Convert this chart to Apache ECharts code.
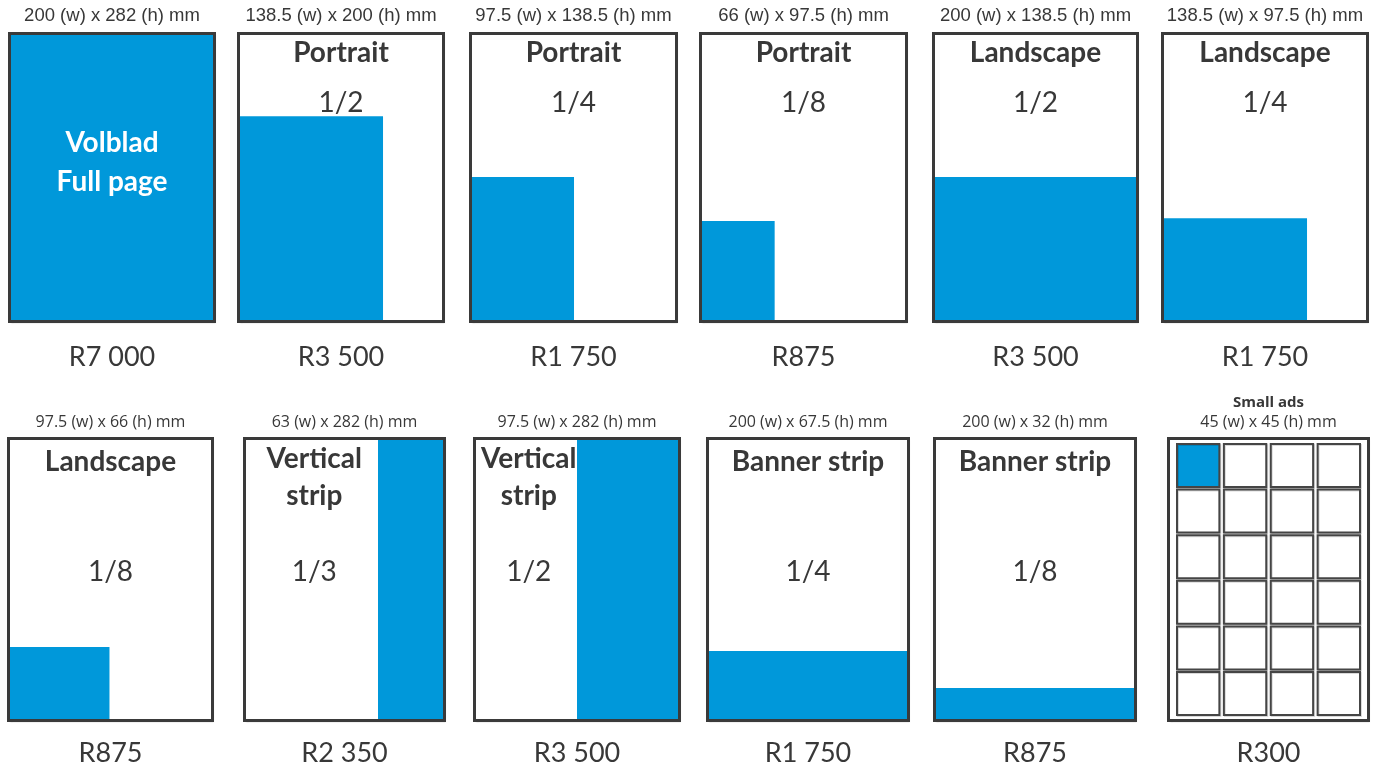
<!DOCTYPE html>
<html><head><meta charset="utf-8">
<script src="https://cdn.jsdelivr.net/npm/echarts@6/dist/echarts.min.js"></script>
<style>html,body{margin:0;padding:0;background:#fff}#c{width:1377px;height:769px}</style>
</head><body><div id="c"></div>
<script>
// ---------------- data ----------------
const pageWidthMm = 200;
const pageHeightMm = 282;
const sizeLabels = ['200 (w) x 282 (h) mm', '138.5 (w) x 200 (h) mm', '97.5 (w) x 138.5 (h) mm', '66 (w) x 97.5 (h) mm', '200 (w) x 138.5 (h) mm', '138.5 (w) x 97.5 (h) mm',
                    '97.5 (w) x 66 (h) mm', '63 (w) x 282 (h) mm', '97.5 (w) x 282 (h) mm', '200 (w) x 67.5 (h) mm', '200 (w) x 32 (h) mm', '45 (w) x 45 (h) mm'];
const formatNames = ['Volblad\nFull page', 'Portrait', 'Portrait', 'Portrait', 'Landscape', 'Landscape',
                     'Landscape', 'Vertical\nstrip', 'Vertical\nstrip', 'Banner strip', 'Banner strip', 'Small ads'];
const fractions = ['', '1/2', '1/4', '1/8', '1/2', '1/4', '1/8', '1/3', '1/2', '1/4', '1/8', ''];
const prices = ['R7 000', 'R3 500', 'R1 750', 'R875', 'R3 500', 'R1 750', 'R875', 'R2 350', 'R3 500', 'R1 750', 'R875', 'R300'];
// ad block sizes as drawn on the page (mm)
const adWidths  = [200, 141, 100.5, 72, 200, 141, 99, 66.5, 100, 200, 200, 45];
const adHeights = [282, 201, 141.5, 98.5, 141.5, 101, 73.5, 282, 282, 69.5, 32.5, 45];
const adAnchors = ['left', 'left', 'left', 'left', 'left', 'left', 'left', 'right', 'right', 'left', 'left', 'grid'];
const smallAdColumns = 4;
const smallAdRows = 6;

// ---------------- layout (pixels) ----------------
const outerLeft  = [8, 237, 469, 699, 932, 1161, 7, 243, 473, 706, 933, 1167];
const outerRight = [216, 445, 678, 908, 1139, 1369, 214, 446, 681, 910, 1137, 1370];
const rowTop = [32, 437], rowBottom = [323, 722];
const BORDER = 3;
const BLUE = '#0098DA';
const DARK = '#3a3a3a';
const TEXT = '#383838';
const rowText = [
  { dim: 16, title: 53, frac: 103, price: 357, dimFont: '18.5px "Liberation Sans", Arial, sans-serif' },
  { dim: 422, title: 462, frac: 572, price: 753, dimFont: '16px "Open Sans", sans-serif' }
];

const grids = [], xAxes = [], yAxes = [], series = [];

function makeRender(i) {
  const row = i < 6 ? 0 : 1;
  const rt = rowText[row];
  return function (params, api) {
    const tl = api.coord([0, pageHeightMm]);
    const br = api.coord([pageWidthMm, 0]);
    const children = [];
    children.push({ type: 'rect', shape: { x: tl[0], y: tl[1], width: br[0] - tl[0], height: br[1] - tl[1] },
      style: { fill: '#fff', shadowColor: 'rgba(0,0,0,0.28)', shadowOffsetX: 1, shadowOffsetY: 1.5, shadowBlur: 1.5 } });
    const w = api.value(0), h = api.value(1);
    const anchor = adAnchors[i];
    let textCx = (tl[0] + br[0]) / 2;
    if (anchor === 'grid') {
      const mx = 8.5, my = 5.5, gx = 4.5, gy = 2.6;
      const cw = (pageWidthMm - 2 * mx - (smallAdColumns - 1) * gx) / smallAdColumns;
      const ch = (pageHeightMm - 2 * my - (smallAdRows - 1) * gy) / smallAdRows;
      for (let r = 0; r < smallAdRows; r++) {
        for (let c = 0; c < smallAdColumns; c++) {
          const x0 = mx + c * (cw + gx);
          const yTop = pageHeightMm - my - r * (ch + gy);
          const p0 = api.coord([x0, yTop]);
          const p1 = api.coord([x0 + cw, yTop - ch]);
          children.push({ type: 'rect', shape: { x: p0[0], y: p0[1], width: p1[0] - p0[0], height: p1[1] - p0[1] },
            style: { fill: (r === 0 && c === 0) ? BLUE : '#fff', stroke: '#454545', lineWidth: 2,
                     shadowColor: 'rgba(0,0,0,0.15)', shadowOffsetX: 1, shadowOffsetY: 1, shadowBlur: 0 } });
        }
      }
    } else {
      const x0 = anchor === 'right' ? pageWidthMm - w : 0;
      const p0 = api.coord([x0, h]);
      const p1 = api.coord([x0 + w, 0]);
      children.push({ type: 'rect', shape: { x: p0[0], y: p0[1], width: p1[0] - p0[0], height: p1[1] - p0[1] },
        style: { fill: BLUE } });
      if (anchor === 'right') textCx = (tl[0] + p0[0]) / 2 + 3;
    }
    // frame
    children.push({ type: 'rect', shape: { x: tl[0], y: tl[1], width: br[0] - tl[0], height: br[1] - tl[1] },
      style: { fill: 'none', stroke: DARK, lineWidth: BORDER } });
    const pageCx = (tl[0] + br[0]) / 2;
    // dimension label above
    children.push({ type: 'text', style: { text: sizeLabels[i], x: pageCx, y: rt.dim, align: 'center', verticalAlign: 'middle',
      font: rt.dimFont, fill: TEXT } });
    // title
    const name = formatNames[i];
    if (i === 0) {
      children.push({ type: 'text', style: { text: name, x: pageCx, y: 162.5, align: 'center', verticalAlign: 'middle',
        font: 'bold 28px Lato, sans-serif', lineHeight: 39, fill: '#fff' } });
    } else if (anchor === 'grid') {
      children.push({ type: 'text', style: { text: name, x: pageCx, y: 403, align: 'center', verticalAlign: 'middle',
        font: 'bold 15px "Open Sans", sans-serif', fill: TEXT } });
    } else if (name.indexOf('\n') >= 0) {
      children.push({ type: 'text', style: { text: name, x: textCx, y: 477.5, align: 'center', verticalAlign: 'middle',
        font: 'bold 28px Lato, sans-serif', lineHeight: 37, fill: TEXT } });
    } else {
      children.push({ type: 'text', style: { text: name, x: textCx, y: rt.title, align: 'center', verticalAlign: 'middle',
        font: 'bold 28px Lato, sans-serif', fill: TEXT } });
    }
    if (fractions[i]) {
      children.push({ type: 'text', style: { text: fractions[i], x: textCx, y: rt.frac, align: 'center', verticalAlign: 'middle',
        font: '28px Lato, sans-serif', fill: TEXT } });
    }
    children.push({ type: 'text', style: { text: prices[i], x: pageCx, y: rt.price, align: 'center', verticalAlign: 'middle',
      font: '27px Lato, sans-serif', fill: TEXT } });
    return { type: 'group', children: children };
  };
}

for (let i = 0; i < 12; i++) {
  const row = i < 6 ? 0 : 1;
  const left = outerLeft[i] + BORDER / 2;
  const width = outerRight[i] - outerLeft[i] - BORDER;
  const top = rowTop[row] + BORDER / 2;
  const height = rowBottom[row] - rowTop[row] - BORDER;
  grids.push({ left: left, top: top, width: width, height: height, containLabel: false });
  xAxes.push({ gridIndex: i, type: 'value', min: 0, max: pageWidthMm, show: false });
  yAxes.push({ gridIndex: i, type: 'value', min: 0, max: pageHeightMm, show: false });
  series.push({ type: 'custom', xAxisIndex: i, yAxisIndex: i, silent: true, clip: false,
    encode: { x: 0, y: 1 }, data: [[adWidths[i], adHeights[i]]], renderItem: makeRender(i) });
}

const chart = echarts.init(document.getElementById('c'), null, { renderer: 'canvas' });
chart.setOption({ animation: false, backgroundColor: '#fff', grid: grids, xAxis: xAxes, yAxis: yAxes, series: series });
</script></body></html>
